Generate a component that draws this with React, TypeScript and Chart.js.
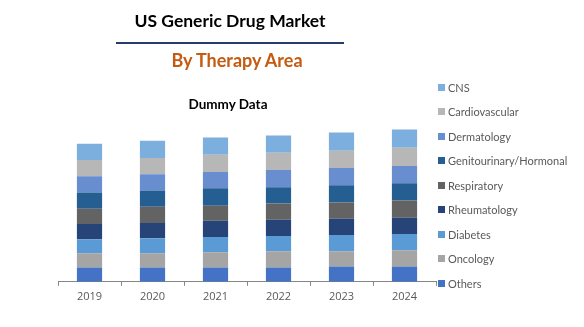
import React, { useEffect, useRef } from "react";
import { Chart, registerables } from "chart.js";

Chart.register(...registerables);

const years = ["2019", "2020", "2021", "2022", "2023", "2024"];

const others = [14, 14, 14, 14, 15, 15];
const oncology = [14, 14, 15, 16, 15, 16];
const diabetes = [14, 15, 15, 15, 16, 16];
const rheumatology = [15, 15, 16, 16, 16, 16];
const respiratory = [15, 16, 15, 16, 16, 17];
const genitourinary = [16, 16, 17, 16, 17, 17];
const dermatology = [16, 16, 16, 17, 17, 17];
const cardiovascular = [16, 16, 17, 17, 17, 18];
const cns = [16, 17, 17, 17, 18, 18];

const seriesNames = [
  "Others",
  "Oncology",
  "Diabetes",
  "Rheumatology",
  "Respiratory",
  "Genitourinary/Hormonal",
  "Dermatology",
  "Cardiovascular",
  "CNS",
];
const seriesValues = [
  others,
  oncology,
  diabetes,
  rheumatology,
  respiratory,
  genitourinary,
  dermatology,
  cardiovascular,
  cns,
];
const seriesColors = [
  "#4472C4",
  "#A5A5A5",
  "#5B9BD5",
  "#264478",
  "#636363",
  "#255E91",
  "#698ED0",
  "#B7B7B7",
  "#7CAFDD",
];

const yMax = 180;

export default function App() {
  const canvasRef = useRef<HTMLCanvasElement | null>(null);

  useEffect(() => {
    if (!canvasRef.current) return;
    const chart = new Chart(canvasRef.current, {
      type: "bar",
      data: {
        labels: years,
        datasets: seriesNames.map((name, i) => ({
          label: name,
          data: seriesValues[i],
          backgroundColor: seriesColors[i],
          borderWidth: 0,
          barPercentage: 0.4,
          categoryPercentage: 1,
        })),
      },
      options: {
        animation: false,
        responsive: false,
        maintainAspectRatio: false,
        layout: { padding: { left: 58, right: 148, top: 99, bottom: 20 } },
        plugins: {
          legend: { display: false },
          tooltip: { enabled: false },
          title: { display: false },
        },
        scales: {
          x: {
            stacked: true,
            grid: {
              display: true,
              drawOnChartArea: false,
              drawTicks: true,
              tickLength: 4,
              color: "#868686",
            },
            border: { display: true, color: "#868686", width: 1 },
            ticks: {
              color: "#595959",
              padding: 4,
              font: { family: "'Open Sans', sans-serif", size: 11 },
            },
          },
          y: {
            stacked: true,
            display: false,
            min: 0,
            max: yMax,
          },
        },
      },
    });
    return () => chart.destroy();
  }, []);

  const legendOrder = seriesNames.map((_, i) => i).reverse();

  return (
    <div
      style={{
        position: "absolute",
        left: 0,
        top: 0,
        width: 584,
        height: 327,
        background: "#fff",
        overflow: "hidden",
      }}
    >
      <canvas
        ref={canvasRef}
        width={584}
        height={327}
        style={{ position: "absolute", left: 0, top: 0, width: 584, height: 327 }}
      />
      <div
        style={{
          position: "absolute",
          left: 0,
          width: 460,
          top: 11,
          textAlign: "center",
          fontFamily: "Lato, sans-serif",
          fontWeight: 700,
          fontSize: 17.5,
          color: "#000",
          lineHeight: "20px",
        }}
      >
        US Generic Drug Market
      </div>
      <div
        style={{
          position: "absolute",
          left: 116,
          top: 42,
          width: 228,
          height: 2,
          background: "#263d6b",
        }}
      />
      <div
        style={{
          position: "absolute",
          left: 0,
          width: 474,
          top: 50,
          textAlign: "center",
          fontFamily: "Lato, sans-serif",
          fontWeight: 700,
          fontSize: 18,
          color: "#C55A11",
          lineHeight: "20px",
        }}
      >
        By Therapy Area
      </div>
      <div
        style={{
          position: "absolute",
          left: 0,
          width: 456,
          top: 96,
          textAlign: "center",
          fontFamily: "Lato, sans-serif",
          fontWeight: 700,
          fontSize: 13.5,
          color: "#000",
          lineHeight: "16px",
        }}
      >
        Dummy Data
      </div>
      {legendOrder.map((idx, row) => (
        <div
          key={seriesNames[idx]}
          style={{
            position: "absolute",
            left: 438,
            top: 80 + row * 24.5,
            height: 14,
            display: "flex",
            alignItems: "center",
            fontFamily: "Lato, sans-serif",
            fontSize: 11,
            color: "#595959",
            whiteSpace: "nowrap",
          }}
        >
          <span
            style={{
              display: "inline-block",
              width: 7,
              height: 7,
              background: seriesColors[idx],
              marginRight: 3,
            }}
          />
          {seriesNames[idx]}
        </div>
      ))}
    </div>
  );
}
